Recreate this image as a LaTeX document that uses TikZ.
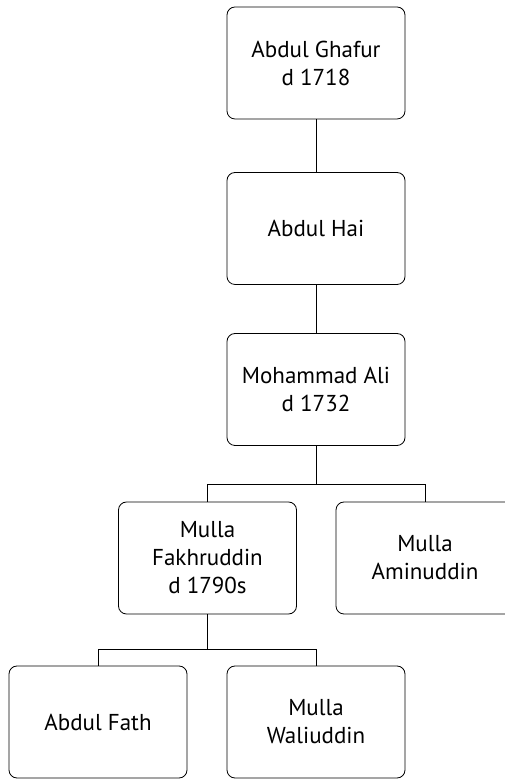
\documentclass[tikz,border=0pt]{standalone}
\usepackage{fontspec}
\setmainfont{PT Sans}
\begin{document}
\begin{tikzpicture}[x=1pt,y=1pt,
        person/.style={draw,line width=.8pt,rounded corners=8pt,minimum width=178pt,minimum height=112pt,align=center,inner sep=0pt,font=\fontsize{23}{28}\selectfont}]
                \useasboundingbox (0,0) rectangle (505,779);
                \node[person] (ghafur) at (316,716) {Abdul Ghafur\\d 1718};
                \node[person] (hai) at (316,550.5) {Abdul Hai};
                \node[person] (ali) at (316,389.5) {Mohammad Ali\\d 1732};
                \node[person] (fakhr) at (207.5,221) {Mulla\\Fakhruddin\\d 1790s};
                \node[person] (amin) at (425,221) {Mulla\\Aminuddin};
                \node[person] (fath) at (98,57) {Abdul Fath};
                \node[person] (wali) at (316,57) {Mulla\\Waliuddin};
                \coordinate (split1) at (0,295);
                \coordinate (split2) at (0,130);
                \draw[line width=.8pt] (ghafur) -- (hai);
                \draw[line width=.8pt] (hai) -- (ali);
                \draw[line width=.8pt] (ali.south) -- (ali.south |- split1) -| (fakhr.north);
                \draw[line width=.8pt] (ali.south |- split1) -| (amin.north);
                \draw[line width=.8pt] (fakhr.south) -- (fakhr.south |- split2) -| (fath.north);
                \draw[line width=.8pt] (fakhr.south |- split2) -| (wali.north);
\end{tikzpicture}
\end{document}
